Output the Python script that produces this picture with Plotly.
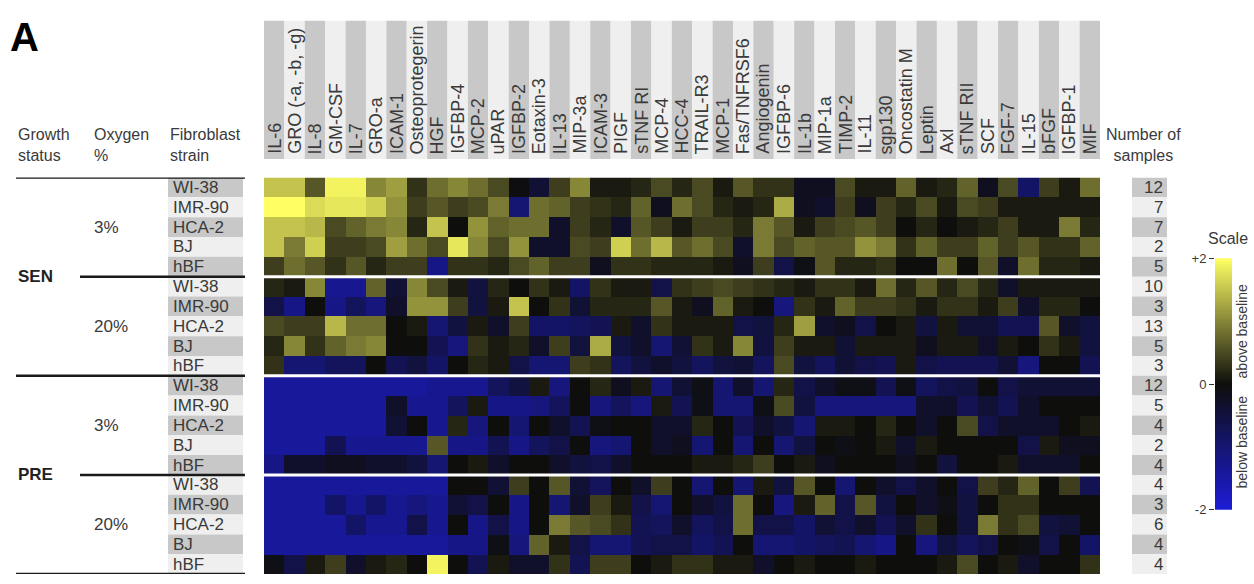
import numpy as np
import plotly.graph_objects as go

W, H = 1254, 584

cytokines = ["IL-6", "GRO (-a, -b, -g)", "IL-8", "GM-CSF", "IL-7", "GRO-a", "ICAM-1",
             "Osteoprotegerin", "HGF", "IGFBP-4", "MCP-2", "uPAR", "IGFBP-2", "Eotaxin-3",
             "IL-13", "MIP-3a", "ICAM-3", "PIGF", "sTNF RI", "MCP-4", "HCC-4", "TRAIL-R3",
             "MCP-1", "Fas/TNFRSF6", "Angiogenin", "IGFBP-6", "IL-1b", "MIP-1a", "TIMP-2",
             "IL-11", "sgp130", "Oncostatin M", "Leptin", "Axl", "sTNF RII", "SCF", "FGF-7",
             "IL-15", "bFGF", "IGFBP-1", "MIF"]

strains = ["WI-38", "IMR-90", "HCA-2", "BJ", "hBF"]
oxygen_levels = ["3%", "20%"]
growth_status = ["SEN", "PRE"]

samples = [12, 7, 7, 2, 5, 10, 3, 13, 5, 3, 12, 5, 4, 2, 4, 4, 3, 6, 4, 4]

# log-ratio vs baseline, one row per (status, oxygen, strain), one column per cytokine
sen_3 = [
    [1.5, 1.5, 0.6, 1.9, 1.9, 1.0, 1.2, 0.3, 0.8, 1.0, 0.8, 0.5, -0.05, -0.4, 0.4, 1.0, 0.1, 0.1, 0.2, 0.5,
     0.2, 0.5, 0.1, 0.6, 0.3, 0.3, -0.2, -0.2, 0.5, 0.1, 0.1, 0.7, 0.1, 0.2, 0.7, -0.2, 0.5, -0.9, 0.4, 0.1, 0.8],
    [2.0, 2.1, 1.7, 1.8, 1.8, 1.6, 1.1, 0.4, 0.6, 0.4, 0.5, 0.9, -1.0, 0.8, 0.7, 0.4, 0.3, 0.2, 0.7, -0.2,
     0.8, 0.5, 0.2, 0.1, 0.2, 1.3, -0.2, -0.3, 0.4, -0.2, 0.4, 0.2, 0.5, 0.1, 0.5, 0.4, 0.1, 0.1, 0.1, 0.1, 0.1],
    [1.5, 1.5, 1.4, 0.5, 0.7, 0.9, 1.0, 0.2, 1.5, 0.0, 1.1, 0.7, 0.8, 0.8, -0.3, 0.4, 0.2, -0.3, 0.6, 0.4,
     0.1, 0.4, 0.4, 0.2, 0.9, 0.6, 0.1, 0.4, 0.5, 0.6, 0.4, 0.0, 0.2, 0.0, 0.1, 0.2, 0.4, 0.1, 0.1, 0.9, 0.2],
    [1.5, 0.9, 1.6, 0.4, 0.4, 0.5, 1.2, 0.8, 0.5, 1.8, 1.0, 0.5, 1.1, -0.3, -0.3, 0.5, 0.4, 1.6, 0.8, 1.4,
     0.6, 0.8, 0.5, -0.3, 0.9, 0.5, 0.7, 0.6, 0.6, 1.1, 0.9, 0.3, 0.7, 0.4, 0.4, 0.7, 0.4, 0.6, 0.3, 0.3, 0.7],
    [0.4, 0.8, 0.6, 0.3, 0.6, 0.2, 0.4, 0.4, -1.2, 0.3, 0.3, 0.2, 0.5, 0.7, 0.4, 0.4, -0.2, 0.3, 0.3, 0.2,
     0.2, 0.2, 0.1, -0.2, 0.4, -0.6, -0.1, 0.6, 0.2, 0.2, 0.3, 0.0, 0.0, 0.8, 0.0, 0.6, -0.3, 0.8, 0.2, 0.2, 0.1],
]
sen_20 = [
    [0.2, 0.1, 1.0, -1.3, -1.3, 0.7, -0.4, 1.0, 0.5, 0.1, -0.5, 0.2, 0.0, 0.3, 0.1, -0.9, 0.3, 0.1, 0.1, -0.6,
     0.3, 0.4, 0.5, 0.4, 0.3, 0.2, 0.1, 0.3, 0.3, 0.1, 0.8, 0.2, 0.6, 0.2, 0.5, 0.2, -0.3, 0.1, 0.1, 0.1, 0.1],
    [-0.6, -1.2, 0.0, -1.2, -0.8, -1.1, -0.3, 1.1, 1.1, 0.4, -0.5, 0.1, 1.5, 0.0, 0.3, -0.4, 0.2, 0.2, 0.2, 0.6,
     0.1, -0.2, 0.7, 0.1, 0.0, -1.1, 0.3, 0.1, 0.7, 0.4, 0.4, 0.3, 0.1, 0.3, 0.3, 0.1, 0.4, -0.3, 0.2, 0.2, 0.0],
    [0.5, 0.4, 0.4, 1.4, 0.8, 0.8, 0.0, 0.1, -1.0, -0.5, 0.1, -0.3, 0.4, -0.9, -0.9, -0.8, -0.7, 0.1, -0.3, 0.3,
     0.1, 0.1, 0.1, -0.6, -0.5, 0.2, 1.2, -0.3, -0.2, -0.6, 0.0, 0.1, -0.5, 0.1, -0.4, -0.4, -0.7, -0.7, 0.6, -0.3, -0.5],
    [0.2, 1.0, 0.3, 0.7, 0.9, 1.0, 0.0, 0.0, -0.7, -1.1, 0.3, 0.1, 0.2, -0.3, 0.4, -0.5, 1.3, -0.5, -0.3, -1.0,
     -0.4, 0.3, 0.1, 1.0, -0.5, 0.4, 0.1, 0.1, -0.4, 0.1, 0.1, 0.1, -0.2, 0.1, 0.1, -0.3, 0.1, 0.0, 0.3, 0.1, -0.5],
    [0.3, -1.0, -1.0, -0.8, -0.8, 0.0, -0.7, -0.5, -0.9, 0.0, 0.2, 0.1, -0.6, -1.0, -1.0, 0.4, 0.3, -0.8, -0.5, -0.3,
     -0.5, -0.8, -0.5, -0.4, -0.8, 0.5, -0.5, -0.8, -0.4, -0.6, -0.7, 0.1, -0.6, -0.7, -0.7, -0.7, -0.4, -1.1, 0.0, 0.0, -0.7],
]
pre_3 = [
    [-1.4, -1.4, -1.4, -1.4, -1.4, -1.4, -1.4, -1.4, -1.3, -1.3, -1.3, -0.8, -0.5, 0.1, -1.1, 0.0, 0.2, -0.2, 0.1, -1.0,
     -0.4, -0.1, -1.0, -0.3, -1.0, 0.2, -0.6, -0.3, -0.1, -0.1, -0.7, -0.1, -0.8, -0.6, -0.5, 0.0, -0.6, -0.4, -0.4, -0.4, -0.4],
    [-1.4, -1.4, -1.4, -1.4, -1.4, -1.4, -0.3, -1.3, -1.3, -0.8, 0.1, -1.2, -1.2, -1.1, -0.8, 0.0, -1.1, -0.8, -1.1, 0.1,
     -0.7, -0.1, -1.0, -1.0, -0.1, 0.5, -0.5, -1.1, -1.1, -1.1, -1.1, -1.1, -0.3, -0.3, -0.7, -0.4, -0.7, -0.3, 0.0, 0.0, 0.0],
    [-1.4, -1.4, -1.4, -1.4, -1.4, -1.4, -0.4, 0.0, -1.3, 0.2, -1.1, 0.0, -1.0, 0.0, -0.3, -0.7, -0.1, 0.0, 0.0, -0.3,
     -0.3, 0.2, 0.0, -0.7, -0.3, -0.5, -1.0, 0.1, 0.1, 0.0, 0.2, 0.0, -0.3, 0.0, 0.5, -0.6, -0.3, -0.3, -0.3, 0.0, 0.1],
    [-1.4, -1.4, -1.4, -0.7, -1.3, -1.3, -1.3, -1.3, 0.6, -1.2, -1.2, -0.7, -1.2, -0.8, -0.6, 0.0, -1.1, -1.0, 0.0, -0.3,
     -0.2, -1.0, 0.0, -1.0, 0.0, -1.0, -0.5, 0.0, -0.1, 0.0, 0.1, -0.3, 0.1, 0.0, 0.0, 0.0, 0.0, -0.6, 0.1, -0.2, -0.2],
    [-1.2, -0.3, -0.3, -0.2, -0.2, -0.3, -0.3, -0.5, -1.0, 0.0, 0.1, -0.3, 0.0, 0.0, -0.3, -0.5, -0.6, -0.3, 0.0, 0.0,
     0.0, 0.1, 0.1, 0.2, 0.4, 0.0, 0.1, -0.2, 0.0, 0.0, 0.0, -0.2, 0.0, -0.5, 0.0, 0.0, 0.1, -0.3, -0.3, -0.3, 0.0],
]
pre_20 = [
    [-1.4, -1.4, -1.4, -1.4, -1.4, -1.4, -1.4, -1.4, -1.4, 0.0, 0.0, -0.4, 0.4, 0.0, 0.6, -0.4, -0.8, 0.0, -0.3, 0.4,
     0.0, -1.0, 0.0, -1.0, 0.1, -0.5, 0.6, 0.0, -1.0, 0.0, -0.3, -0.6, -0.3, 0.0, -0.6, 0.4, 0.2, 0.7, 0.0, 0.4, -0.7],
    [-1.4, -1.4, -1.4, -0.9, -1.3, -0.9, -1.3, -1.1, -1.3, -0.4, -0.6, 0.0, -1.2, 0.0, -1.0, -0.3, 0.4, 0.1, -0.6, -1.0,
     0.0, -0.3, -0.5, 0.8, 0.0, -1.1, 0.1, 0.7, -0.6, 0.6, -0.5, 0.0, -0.3, -0.1, -0.5, 0.0, 0.3, 0.3, 0.0, 0.0, 0.0],
    [-1.4, -1.4, -1.4, -1.4, -0.9, -1.3, -1.3, -0.6, -1.3, 0.0, -1.2, -0.6, -1.2, 0.0, 0.9, 0.6, 0.5, 0.3, -0.7, -0.8,
     -0.3, -0.8, -0.6, 0.8, -0.6, -0.6, -0.9, -0.4, -0.6, -0.3, -0.7, -0.3, 0.3, 0.0, -0.5, 0.9, 0.3, 0.5, -0.5, -0.4, 0.0],
    [-1.4, -1.4, -1.4, -1.4, -1.4, -1.4, -1.4, -1.4, -1.4, -1.2, -1.2, -0.1, -1.1, 0.7, 0.1, -0.6, -1.0, -1.0, -0.7, -0.6,
     -0.6, -0.9, -0.7, 0.0, -1.0, -1.0, -0.9, -0.8, -0.7, -1.0, -1.2, 0.0, -1.1, -0.5, -0.8, -0.6, 0.0, -0.1, -0.6, 0.0, -0.9],
    [-0.1, -0.6, 0.1, 0.4, -0.3, 0.1, 0.2, 0.0, 1.9, 0.0, -0.7, 0.1, -0.3, -0.3, 0.3, -0.7, 0.4, 0.4, 0.0, 0.1,
     0.3, 0.3, 0.1, 0.1, -0.3, 0.0, 0.1, 0.0, 0.0, 0.1, 0.0, 0.0, 0.0, 0.1, 0.5, 0.0, 0.1, -0.3, 0.0, 0.0, 0.3],
]

scale_ticks = [-2, 0, 2]
scale_ticktext = ["-2", "0", "+2"]

# ---------------------------------------------------------------
values = sen_3 + sen_20 + pre_3 + pre_20
n_rows = len(values)
row_ids = list(range(n_rows))
row_strain = [s for _ in range(4) for s in strains]

def X(px):
    return px / W

def Y(py):
    return 1 - py / H

FONT = "Liberation Sans, Arial, Helvetica, sans-serif"
TXT = "#3a3a3a"
GRAY = "#c8c8c8"
LIGHT = "#efefef"

cscale = [[0.0, "rgb(28,28,215)"], [0.5, "rgb(14,14,12)"], [1.0, "rgb(255,255,100)"]]

fig = go.Figure()
fig.add_trace(go.Heatmap(
    z=values, x=cytokines, y=row_ids, colorscale=cscale, zmin=-2, zmax=2,
    showscale=False, hoverongaps=False, xaxis="x", yaxis="y"))

# scale bar (legend gradient)
scale_levels = np.linspace(-2, 2, 161)
fig.add_trace(go.Heatmap(
    z=[[v] for v in scale_levels], x=[0], y=scale_levels, colorscale=cscale,
    zmin=-2, zmax=2, showscale=False, xaxis="x2", yaxis="y2", hoverinfo="skip"))

shapes = []
annotations = []

# column header bands + labels
for i, name in enumerate(cytokines):
    shapes.append(dict(type="rect", xref="x", yref="paper", x0=i - 0.5, x1=i + 0.5,
                       y0=Y(156), y1=Y(14), fillcolor=GRAY if i % 2 == 0 else LIGHT,
                       line=dict(width=0), layer="below"))
    annotations.append(dict(text=name, xref="x", yref="paper", x=name, y=Y(153),
                            xanchor="center", yanchor="bottom", textangle=-90,
                            showarrow=False, font=dict(family=FONT, size=18, color=TXT)))

# row label boxes, labels, sample counts
for r in row_ids:
    fill = GRAY if r % 2 == 0 else LIGHT
    shapes.append(dict(type="rect", xref="paper", yref="y", x0=X(168), x1=X(243),
                       y0=r - 0.5, y1=r + 0.5, fillcolor=fill, line=dict(width=0), layer="below"))
    annotations.append(dict(text=row_strain[r], xref="paper", yref="y", x=X(171), y=r,
                            xanchor="left", yanchor="middle", showarrow=False,
                            font=dict(family=FONT, size=17, color=TXT)))
    shapes.append(dict(type="rect", xref="paper", yref="y", x0=X(1132), x1=X(1167),
                       y0=r - 0.5, y1=r + 0.5, fillcolor=fill, line=dict(width=0), layer="below"))
    annotations.append(dict(text=str(samples[r]), xref="paper", yref="y", x=X(1165), y=r,
                            xanchor="right", yanchor="middle", showarrow=False,
                            font=dict(family=FONT, size=17, color=TXT)))

# white separators inside the heatmap
for b in [4.5, 9.5, 14.5]:
    shapes.append(dict(type="line", xref="x", yref="y", x0=-0.5, x1=len(cytokines) - 0.5,
                       y0=b, y1=b, line=dict(color="white", width=3)))

# black group lines on the left
for b, x0 in [(-0.5, 16), (4.5, 80), (9.5, 16), (14.5, 80), (19.5, 16)]:
    shapes.append(dict(type="line", xref="paper", yref="y", x0=X(x0), x1=X(245),
                       y0=b, y1=b, line=dict(color="#1a1a1a", width=2.5)))

# oxygen and growth status labels
for k, st in enumerate(growth_status):
    annotations.append(dict(text="<b>%s</b>" % st, xref="paper", yref="y", x=X(16), y=10 * k + 4.5,
                            xanchor="left", yanchor="middle", showarrow=False,
                            font=dict(family=FONT, size=17, color="#222")))
    for j, ox in enumerate(oxygen_levels):
        annotations.append(dict(text=ox, xref="paper", yref="y", x=X(92), y=10 * k + 5 * j + 2,
                                xanchor="left", yanchor="middle", showarrow=False,
                                font=dict(family=FONT, size=17, color=TXT)))

# headers
for txt, xp, anchor in [("Growth<br>status", 16, "left"), ("Oxygen<br>%", 92, "left"),
                        ("Fibroblast<br>strain", 168, "left"), ("Number of<br>samples", 1143, "center")]:
    annotations.append(dict(text=txt, xref="paper", yref="paper", x=X(xp), y=Y(142),
                            xanchor=anchor, yanchor="middle", align=anchor, showarrow=False,
                            font=dict(family=FONT, size=16, color=TXT)))

annotations.append(dict(text="<b>A</b>", xref="paper", yref="paper", x=X(8), y=Y(6),
                        xanchor="left", yanchor="top", showarrow=False,
                        font=dict(family=FONT, size=40, color="black")))
annotations.append(dict(text="Scale", xref="paper", yref="paper", x=X(1228), y=Y(238),
                        xanchor="center", yanchor="middle", showarrow=False,
                        font=dict(family=FONT, size=16, color=TXT)))
annotations.append(dict(text="above baseline", xref="paper", yref="paper", x=X(1242), y=Y(333),
                        xanchor="center", yanchor="middle", textangle=-90, showarrow=False,
                        font=dict(family=FONT, size=14, color=TXT)))
annotations.append(dict(text="below baseline", xref="paper", yref="paper", x=X(1242), y=Y(447),
                        xanchor="center", yanchor="middle", textangle=-90, showarrow=False,
                        font=dict(family=FONT, size=14, color=TXT)))

fig.update_layout(
    width=W, height=H, margin=dict(l=0, r=0, t=0, b=0),
    paper_bgcolor="white", plot_bgcolor="white",
    xaxis=dict(domain=[X(264), X(1100)], range=[-0.5, len(cytokines) - 0.5], visible=False,
               anchor="y", categoryorder="array", categoryarray=cytokines),
    yaxis=dict(domain=[Y(582), Y(175)], range=[n_rows - 0.5, -0.5], visible=False, anchor="x"),
    xaxis2=dict(domain=[X(1215), X(1232)], visible=False, anchor="y2", range=[-0.5, 0.5]),
    yaxis2=dict(domain=[Y(516), Y(258)], range=[-2, 2], anchor="x2", side="left",
                tickmode="array", tickvals=scale_ticks, ticktext=scale_ticktext,
                ticks="outside", ticklen=5, minor=dict(ticks=""),
                tickcolor="#333", showgrid=False, zeroline=False, showline=False,
                tickfont=dict(family=FONT, size=13, color=TXT)),
    shapes=shapes, annotations=annotations, showlegend=False,
)

fig.write_html(
    "out.html",
    config={"displayModeBar": False},
    post_script="document.body.style.margin='0';document.body.style.overflow='hidden';",
)
